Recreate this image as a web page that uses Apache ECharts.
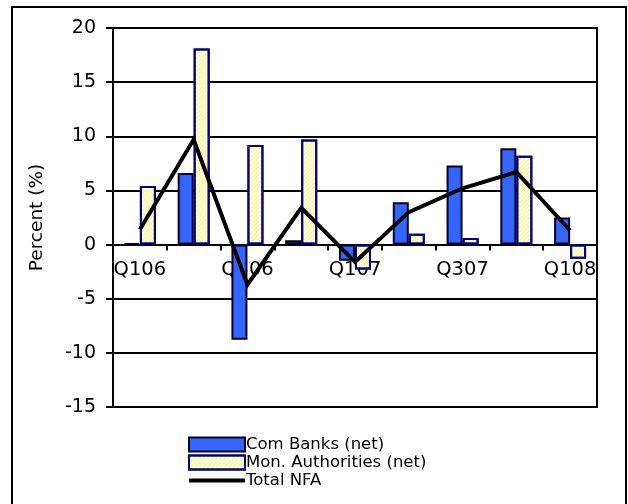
<!DOCTYPE html>
<html>
<head>
<meta charset="utf-8">
<script src="https://cdn.jsdelivr.net/npm/echarts@6/dist/echarts.min.js"></script>
<style>
  html, body { margin: 0; padding: 0; background: #fff; }
  #chart { width: 628px; height: 504px; }
</style>
</head>
<body>
<div id="chart"></div>
<script>
// Quarterly contributions to net foreign assets growth
const quarters = ['Q106', 'Q206', 'Q306', 'Q406', 'Q107', 'Q207', 'Q307', 'Q407', 'Q108'];
const comBanks = [0.1, 6.6, -8.8, 0.4, -1.5, 3.9, 7.3, 8.9, 2.5];
const monAuthorities = [5.4, 18.1, 9.2, 9.7, -2.3, 1.0, 0.6, 8.2, -1.3];
const totalNFA = [1.4, 9.7, -3.7, 3.4, -1.6, 3.0, 5.2, 6.7, 1.3];

const yMin = -15, yMax = 20, yStep = 5;

const FONT = 'DejaVu Sans';
const GRID = { left: 113, right: 31, top: 28, bottom: 97 };

// Offset that lifts the category axis (and its labels) up to the zero line
const plotH = 504 - GRID.top - GRID.bottom;
const zeroOffset = -plotH * (0 - yMin) / (yMax - yMin);

// Thick line legend icon, padded with empty moves so it keeps its thickness
const lineIcon = 'path://M0,0M0,5L56,5L56,9L0,9ZM56,14';

const chart = echarts.init(document.getElementById('chart'), null, { renderer: 'canvas' });

chart.setOption({
  animation: false,
  backgroundColor: '#fff',
  textStyle: { fontFamily: FONT, color: '#000' },
  graphic: [{
    type: 'rect',
    shape: { x: 12, y: 7, width: 614, height: 520 },
    style: { fill: 'none', stroke: '#000', lineWidth: 2 },
    silent: true
  }],
  grid: Object.assign({
    show: true, borderColor: '#000', borderWidth: 2, backgroundColor: 'transparent'
  }, GRID),
  legend: {
    orient: 'vertical',
    left: 183, top: 431,
    itemWidth: 56, itemHeight: 14, itemGap: 1,
    textStyle: { fontFamily: FONT, fontSize: 16.5, color: '#000', padding: [0, 0, 0, -4] },
    data: [
      { name: 'Com Banks (net)', icon: 'rect' },
      { name: 'Mon. Authorities (net)', icon: 'rect' },
      { name: 'Total NFA', icon: lineIcon, itemStyle: { color: '#000', borderWidth: 0 } }
    ]
  },
  xAxis: {
    type: 'category',
    data: quarters,
    offset: zeroOffset,
    axisLine: { onZero: false, lineStyle: { color: '#000', width: 2 } },
    axisTick: { show: true, interval: 0, length: 6, lineStyle: { color: '#000', width: 2 } },
    axisLabel: { interval: 1, margin: 15, fontFamily: FONT, fontSize: 19.5, color: '#000' },
    splitLine: { show: false }
  },
  yAxis: {
    type: 'value',
    min: yMin, max: yMax, interval: yStep,
    name: 'Percent (%)',
    nameLocation: 'middle',
    nameGap: 66,
    nameTextStyle: { fontFamily: FONT, fontSize: 18.5, color: '#000' },
    axisLine: { show: true, lineStyle: { color: '#000', width: 2 } },
    axisTick: { show: true, length: 7, lineStyle: { color: '#000', width: 2 } },
    axisLabel: { margin: 17, fontFamily: FONT, fontSize: 19, color: '#000' },
    splitLine: { show: true, lineStyle: { color: '#000', width: 2 } }
  },
  series: [
    {
      name: 'Com Banks (net)',
      type: 'bar',
      data: comBanks,
      barWidth: 16,
      barGap: '0%',
      itemStyle: { color: '#3366FF', borderColor: '#000022', borderWidth: 2 },
      z: 2
    },
    {
      name: 'Mon. Authorities (net)',
      type: 'bar',
      data: monAuthorities,
      barWidth: 16,
      barGap: '0%',
      itemStyle: {
        color: '#FFFFCC',
        borderColor: '#000080',
        borderWidth: 2,
        decal: {
          symbol: 'rect',
          color: 'rgba(225, 215, 140, 0.35)',
          dashArrayX: [1, 0],
          dashArrayY: [1, 2],
          rotation: -Math.PI / 4
        }
      },
      z: 2
    },
    {
      name: 'Total NFA',
      type: 'line',
      data: totalNFA,
      symbol: 'none',
      showSymbol: false,
      lineStyle: { color: '#000', width: 4, join: 'miter' },
      itemStyle: { color: '#000' },
      z: 5
    }
  ]
});
</script>
</body>
</html>
